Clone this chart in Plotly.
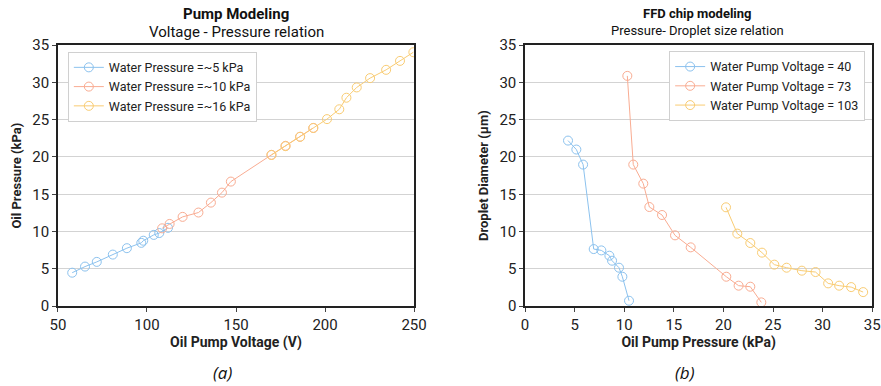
import plotly.graph_objects as go

# ---- Data: (a) Pump modeling ----
volt_5 = [58.0, 65.2, 71.8, 80.8, 88.7, 96.8, 97.9, 103.8, 106.9, 111.8]
pres_5 = [4.48, 5.30, 5.93, 6.91, 7.77, 8.48, 8.77, 9.55, 9.80, 10.50]
volt_10 = [108.5, 112.7, 120.0, 128.9, 135.9, 142.1, 147.1, 169.9, 177.8, 186.0, 193.4]
pres_10 = [10.43, 11.02, 11.97, 12.55, 13.88, 15.22, 16.70, 20.29, 21.50, 22.71, 23.90]
volt_16 = [169.9, 177.8, 186.0, 193.4, 201.1, 208.0, 212.0, 217.8, 225.3, 234.3, 242.1, 249.6]
pres_16 = [20.27, 21.45, 22.71, 23.89, 25.08, 26.40, 27.95, 29.33, 30.58, 31.69, 32.89, 34.05]

# ---- Data: (b) FFD chip modeling ----
oilp_40 = [4.33, 5.17, 5.85, 6.92, 7.69, 8.50, 8.77, 9.47, 9.81, 10.48]
diam_40 = [22.2, 21.0, 18.98, 7.65, 7.47, 6.76, 6.09, 5.15, 3.94, 0.72]
oilp_73 = [10.31, 10.91, 11.92, 12.53, 13.81, 15.12, 16.70, 20.29, 21.53, 22.71, 23.82]
diam_73 = [30.88, 18.98, 16.43, 13.29, 12.22, 9.49, 7.88, 3.94, 2.74, 2.60, 0.50]
oilp_103 = [20.26, 21.40, 22.71, 23.89, 25.13, 26.37, 27.91, 29.29, 30.56, 31.67, 32.88, 34.09]
diam_103 = [13.25, 9.72, 8.46, 7.17, 5.56, 5.15, 4.75, 4.57, 3.05, 2.74, 2.55, 1.88]

names_a = ["Water Pressure =~5 kPa", "Water Pressure =~10 kPa", "Water Pressure =~16 kPa"]
names_b = ["Water Pump Voltage = 40", "Water Pump Voltage = 73", "Water Pump Voltage = 103"]
colors = ["#8cc2ee", "#f9ac92", "#f9cc73"]

FONT = "Roboto"
fig = go.Figure()

def add(x, y, name, color, xa, ya, legend):
    fig.add_trace(go.Scatter(
        x=x, y=y, name=name, mode="lines+markers",
        line=dict(color=color, width=1),
        marker=dict(symbol="circle-open", size=9, color=color, line=dict(width=1, color=color)),
        xaxis=xa, yaxis=ya, legend=legend))

for xs, ys, n, c in zip([volt_5, volt_10, volt_16], [pres_5, pres_10, pres_16], names_a, colors):
    add(xs, ys, n, c, "x", "y", "legend")
for xs, ys, n, c in zip([oilp_40, oilp_73, oilp_103], [diam_40, diam_73, diam_103], names_b, colors):
    add(xs, ys, n, c, "x2", "y2", "legend2")

ydom = [0.207, 0.883]
axcommon = dict(showline=True, linecolor="#222", linewidth=1.5, mirror=True,
                ticks="outside", ticklen=4, tickcolor="#444", automargin=False,
                tickfont=dict(family=FONT, size=15, color="#222"), zeroline=False)

fig.update_layout(
    width=881, height=386, margin=dict(l=0, r=0, t=0, b=0),
    paper_bgcolor="white", plot_bgcolor="white",
    font=dict(family=FONT, color="#222"),
    xaxis=dict(domain=[0.0658, 0.470], range=[50, 250], dtick=50, showgrid=False,
               title=dict(text="<b>Oil Pump Voltage (V)</b>", font=dict(size=14, family=FONT), standoff=4),
               anchor="y", **axcommon),
    yaxis=dict(domain=ydom, range=[0, 35], dtick=5, showgrid=True, gridcolor="#d3d3d3",
               title=dict(text="<b>Oil Pressure (kPa)</b>", font=dict(size=13, family=FONT), standoff=8),
               anchor="x", **axcommon),
    xaxis2=dict(domain=[0.596, 0.990], range=[0, 35], dtick=5, showgrid=False,
                title=dict(text="<b>Oil Pump Pressure (kPa)</b>", font=dict(size=14, family=FONT), standoff=4),
                anchor="y2", **axcommon),
    yaxis2=dict(domain=ydom, range=[0, 35], dtick=5, showgrid=True, gridcolor="#d3d3d3",
                title=dict(text="<b>Droplet Diameter (µm)</b>", font=dict(size=13, family=FONT), standoff=8),
                anchor="x2", **axcommon),
    legend=dict(x=0.077, y=0.866, xanchor="left", yanchor="top",
                bgcolor="white", bordercolor="#d0d0d0", borderwidth=1,
                font=dict(family=FONT, size=12.5, color="#222"), tracegroupgap=0,
                itemwidth=30),
    legend2=dict(x=0.982, y=0.868, xanchor="right", yanchor="top",
                 bgcolor="white", bordercolor="#d0d0d0", borderwidth=1,
                 font=dict(family=FONT, size=12.5, color="#222"), tracegroupgap=0,
                 itemwidth=30),
    showlegend=True,
)

ann = [
    dict(text="<b>Pump Modeling</b>", x=236, y=14, size=15),
    dict(text="Voltage - Pressure relation", x=236, y=32, size=15),
    dict(text="<b>FFD chip modeling</b>", x=697, y=13, size=13),
    dict(text="Pressure- Droplet size relation", x=697, y=30, size=13),
]
for a in ann:
    fig.add_annotation(text=a["text"], xref="paper", yref="paper",
                       x=a["x"] / 881, y=1 - a["y"] / 386, xanchor="center", yanchor="middle",
                       showarrow=False, font=dict(family=FONT, size=a["size"], color="#111"))
for t, x in [("<i>(a)</i>", 222), ("<i>(b)</i>", 685)]:
    fig.add_annotation(text=t, xref="paper", yref="paper", x=x / 881, y=1 - 372 / 386,
                       xanchor="center", yanchor="middle", showarrow=False,
                       font=dict(family="Open Sans", size=17, color="#111"))

fig.write_html("out.html")
